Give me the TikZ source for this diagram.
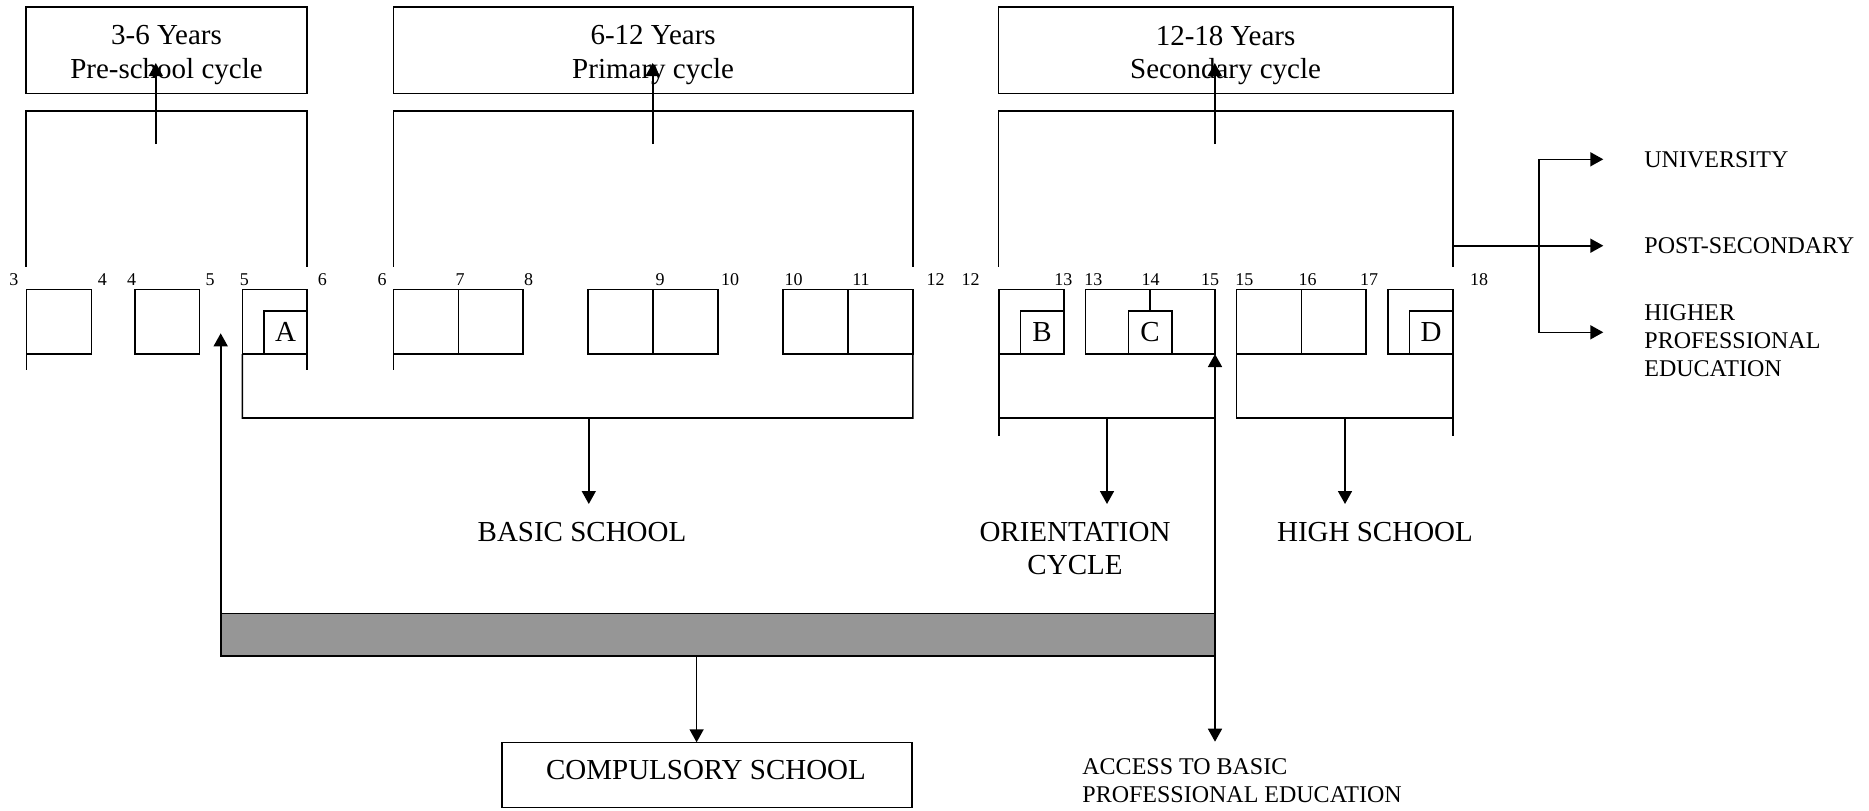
\documentclass[tikz,border=0pt]{standalone}
\usepackage{fontspec}
\setmainfont{Liberation Serif}
\usetikzlibrary{arrows.meta}
\definecolor{barGray}{RGB}{150,150,150}
% [options]{name}{x1}{y1}{x2}{y2}{text}
\newcommand\rbox[7][]{%
  \node[bx,#1,minimum width={(#5-#3)*0.5pt},minimum height={(#6-#4)*0.5pt}]
    (#2) at ({(#3+#5)/2},{(#4+#6)/2}) {#7};}
\begin{document}
\begin{tikzpicture}[x=0.5pt,y=-0.5pt,
  ln/.style={line width=0.8pt},
  bx/.style={draw, ln, inner sep=0pt, outer sep=0pt, align=center},
  big/.style={font=\fontsize{14.5}{16.75}\selectfont},
  sml/.style={font=\fontsize{12}{14}\selectfont},
  num/.style={font=\fontsize{9}{11}\selectfont, inner sep=0pt},
  tip/.tip={Triangle[length=6.5pt,width=7pt]},
  arr/.style={ln, -tip},
  toptext/.style={big, align=center, inner sep=0pt, yshift=-2.5pt},
]
\useasboundingbox (0,0) rectangle (1869,810);

% top boxes
\rbox{t1}{26}{7}{307}{93.5}{}
\rbox{t2}{393.3}{7}{913}{93.5}{}
\rbox{t3}{998.5}{7}{1452.7}{93.5}{}
\node[toptext] (t1t) at (t1.center) {3-6 Years\\Pre-school cycle};
\node[toptext] (t2t) at (t2.center) {6-12 Years\\Primary cycle};
\node[toptext] (t3t) at (t3.center) {12-18 Years\\Secondary cycle};

% upper frames
\draw[ln] (26,266.7) |- (307,111) -- (307,266.7);
\draw[ln] (393.3,266.7) |- (913,111) -- (913,266.7);
\draw[ln] (998.5,266.7) |- (1452.7,111) -- (1452.7,266.7);

\coordinate (f1) at (155.8,144); \coordinate (f1e) at (155.8,63);
\coordinate (f2) at (652.7,144); \coordinate (f2e) at (652.7,63);
\coordinate (f3) at (1214.8,144); \coordinate (f3e) at (1214.8,63);
\draw[arr] (f1) -- (f1e);
\draw[arr] (f2) -- (f2e);
\draw[arr] (f3) -- (f3e);

% age numbers
\foreach \x/\t in {14/3,102.3/4,131.7/4,210/5,244.3/5,322.3/6,382/6,460/7,528.6/8,660/9,730/10,793.6/10,861/11,935.7/12,970.7/12,1063.3/13,1093.3/13,1150.7/14,1210/15,1244.3/15,1307.5/16,1369/17,1479/18}
  \node[num] (n\x) at (\x,279.3) {\t};

% small boxes
\rbox{s1}{26.3}{289.3}{91.3}{354}{}
\rbox{s2}{134.7}{289.3}{199.3}{354}{}
\rbox{s3}{242.3}{289.3}{307}{354}{}
\rbox[big]{sA}{264}{310.7}{307}{354}{A}
\rbox{s4a}{393.3}{289.3}{458.5}{354}{}
\rbox{s4b}{458.5}{289.3}{523.2}{354}{}
\rbox{s5a}{588}{289.3}{652.7}{354}{}
\rbox{s5b}{652.7}{289.3}{717.7}{354}{}
\rbox{s6a}{782.8}{289.3}{847.8}{354}{}
\rbox{s6b}{847.8}{289.3}{912.9}{354}{}
\rbox{s7}{999}{289.3}{1063.7}{354}{}
\rbox[big]{sB}{1020.3}{310.7}{1063.7}{354}{B}
\rbox{s8}{1085.3}{289.3}{1215}{354}{}
\rbox[big]{sC}{1128.3}{310.7}{1172}{354}{C}
\draw[ln] (sC.north) -- (sC.north |- s8.north);
\rbox{s9a}{1236.4}{289.3}{1301.5}{354}{}
\rbox{s9b}{1301.5}{289.3}{1366}{354}{}
\rbox{s10}{1387.7}{289.3}{1452.7}{354}{}
\rbox[big]{sD}{1409.3}{310.7}{1452.7}{354}{D}

% ticks below boxes
\draw[ln] (s1.south west) -- ++(0,16);
\draw[ln] (s3.south east) -- ++(0,16);
\draw[ln] (s4a.south west) -- ++(0,16);

% lower brackets
\coordinate (bR) at (912.9,418);
\draw[ln] (s3.south west) |- (bR) -- (s6b.south east);
\coordinate (oL) at (999,436);
\draw[ln] (s7.south west) -- (oL);
\coordinate (oA) at (999,418); \coordinate (oB) at (1215,418);
\draw[ln] (oA) -- (oB);
\coordinate (hR) at (1452.7,418);
\draw[ln] (s9a.south west) |- (hR);
\coordinate (hE) at (1452.7,436);
\draw[ln] (s10.south east) -- (hE);

% labels
\node[big] (basic) at (582,531.7) {BASIC SCHOOL};
\node[big,align=center] (orient) at (1075,548.7) {ORIENTATION\\CYCLE};
\node[big] (high) at (1375,531.7) {HIGH SCHOOL};

\coordinate (bm) at (588.8,418); \coordinate (bme) at (588.8,504);
\coordinate (om) at (1107,418); \coordinate (ome) at (1107,504);
\coordinate (hm) at (1345,418); \coordinate (hme) at (1345,504);
\draw[arr] (bm) -- (bme);
\draw[arr] (om) -- (ome);
\draw[arr] (hm) -- (hme);

% gray bar
\rbox[fill=barGray]{bar}{220.7}{613.3}{1215}{656}{}
\coordinate (upE) at (220.7,333.3);
\draw[arr] (bar.north west) -- (upE);
\coordinate (accE) at (1215,741.7);
\draw[ln,tip-tip] (s8.south east) -- (accE);

% compulsory
\rbox{comp}{501.7}{742.3}{912}{807.3}{}
\node[big, inner sep=0pt] (compt) at (706,770.5) {COMPULSORY SCHOOL};
\coordinate (cs) at (696.6,656);
\draw[arr] (cs) -- (cs |- comp.north);

\node[sml,anchor=west,align=left,inner sep=0pt] (access) at (1082,781)
  {ACCESS TO BASIC\\PROFESSIONAL EDUCATION};

% right side
\coordinate (psA) at (1452.7,245.7); \coordinate (psE) at (1603.3,245.7);
\coordinate (brT) at (1539,159.3); \coordinate (uE) at (1603.3,159.3);
\coordinate (hpE) at (1603.3,332.3);
\draw[arr] (psA) -- (psE);
\draw[arr] (brT) -- (uE);
\draw[arr] (brT) |- (hpE);

\node[sml,anchor=west,inner sep=0pt] (univ) at (1644,160) {UNIVERSITY};
\node[sml,anchor=west,inner sep=0pt] (post) at (1644,245.7) {POST-SECONDARY};
\node[sml,anchor=west,align=left,inner sep=0pt] (hpe) at (1644,340.5)
  {HIGHER\\PROFESSIONAL\\EDUCATION};
\end{tikzpicture}
\end{document}
